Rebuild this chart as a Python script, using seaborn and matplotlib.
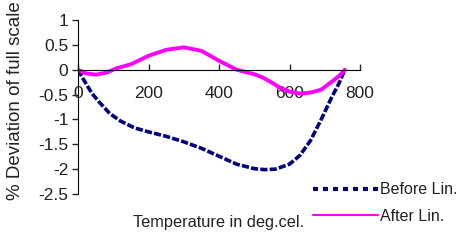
import matplotlib
matplotlib.use('Agg')
import matplotlib.pyplot as plt
import pandas as pd
import seaborn as sns

# Data
before_temp = [0, 20, 40, 60, 90, 120, 160, 200, 250, 300, 350, 400, 450,
               500, 530, 560, 600, 630, 660, 690, 720, 740, 757]
before_dev = [0, -0.25, -0.48, -0.65, -0.88, -1.03, -1.17, -1.25, -1.34,
              -1.45, -1.58, -1.74, -1.9, -1.99, -2.01, -2.0, -1.9, -1.72,
              -1.42, -1.0, -0.55, -0.28, 0]
after_temp = [0, 20, 50, 80, 110, 150, 200, 250, 300, 350, 400, 450, 500,
              525, 550, 575, 600, 630, 660, 690, 720, 740, 757]
after_dev = [0, -0.07, -0.1, -0.06, 0.03, 0.11, 0.28, 0.4, 0.45, 0.38,
             0.18, 0.0, -0.09, -0.16, -0.26, -0.37, -0.44, -0.48, -0.46,
             -0.4, -0.24, -0.13, 0]
x_ticks = [0, 200, 400, 600, 800]
y_ticks = [1, 0.5, 0, -0.5, -1, -1.5, -2, -2.5]

before_df = pd.DataFrame({'T': before_temp, 'D': before_dev})
after_df = pd.DataFrame({'T': after_temp, 'D': after_dev})

# Labels / colors
x_l = 'Temperature in deg.cel.'
y_l = '% Deviation of full scale'
before_l = 'Before Lin.'
after_l = 'After Lin.'
before_c = '#000080'
after_c = '#ff00ff'
txt_c = '#222222'

sns.set_style('white')
plt.rcParams['font.family'] = ['Liberation Sans', 'DejaVu Sans']

fig = plt.figure(figsize=(4.63, 2.42), dpi=100)
ax = fig.add_axes([78 / 463, 1 - 194 / 242, 282 / 463, 174 / 242])

sns.lineplot(data=before_df, x='T', y='D', sort=False, ax=ax,
             color=before_c, lw=2.6, label=before_l)
ax.lines[-1].set_linestyle((0, (2.0, 0.6)))
sns.lineplot(data=after_df, x='T', y='D', sort=False, ax=ax,
             color=after_c, lw=2.8, label=after_l)

ax.set_xlim(0, 800)
ax.set_ylim(-2.5, 1)
ax.set_xticks(x_ticks)
ax.set_yticks(y_ticks)
ax.set_yticklabels([f'{v:g}' for v in y_ticks])
ax.set_xlabel('')
ax.set_ylabel('')

# Excel-like axes: x axis crossing at zero
for s in ['top', 'right']:
    ax.spines[s].set_visible(False)
ax.spines['bottom'].set_position(('data', 0))
ax.spines['bottom'].set_color('black')
ax.spines['left'].set_color('black')
ax.tick_params(axis='x', direction='in', length=4, width=1, pad=12,
               labelsize=12.5, labelcolor=txt_c, bottom=True)
ax.tick_params(axis='y', direction='out', length=4, width=1, pad=3,
               labelsize=12.5, labelcolor=txt_c, left=True)

fig.text(219 / 463, 1 - 223 / 242, x_l, ha='center', va='center',
         fontsize=11.8, color=txt_c)
fig.text(16 / 463, 1 - 200 / 242, y_l, ha='center', va='bottom',
         rotation=90, fontsize=13.5, color=txt_c)

leg = ax.legend(loc='center left', bbox_to_anchor=(305 / 463, 1 - 203 / 242),
                bbox_transform=fig.transFigure, frameon=False, fontsize=11.5,
                handlelength=4.1, handletextpad=0.12, labelspacing=0.7,
                borderpad=0, labelcolor=txt_c)
leg.legend_handles[0].set_linestyle((0, (1.2, 1.2)))
leg.legend_handles[0].set_linewidth(3)
leg.legend_handles[1].set_linewidth(1.5)

fig.savefig('out.png', dpi=100)
